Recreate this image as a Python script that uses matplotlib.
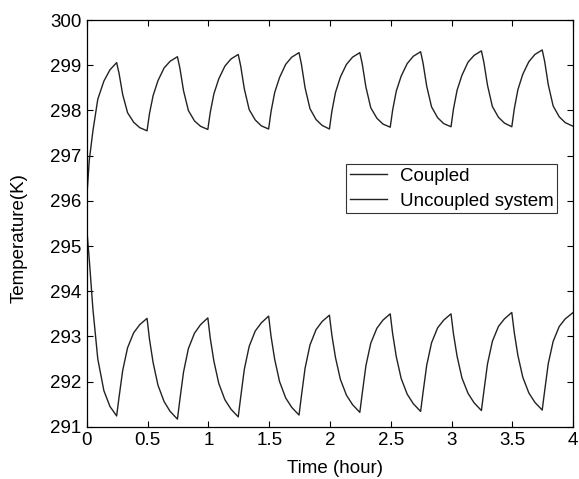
import matplotlib
matplotlib.use("Agg")
import matplotlib.pyplot as plt

plt.rcParams['font.family'] = ['Liberation Sans', 'DejaVu Sans']

# time (hour), one row per quarter-hour segment
time = [
    0.000, 0.020, 0.050, 0.090, 0.140, 0.190,
    0.245, 0.265, 0.295, 0.335, 0.385, 0.435,
    0.495, 0.515, 0.545, 0.585, 0.635, 0.685,
    0.745, 0.765, 0.795, 0.835, 0.885, 0.935,
    0.995, 1.015, 1.045, 1.085, 1.135, 1.185,
    1.245, 1.265, 1.295, 1.335, 1.385, 1.435,
    1.495, 1.515, 1.545, 1.585, 1.635, 1.685,
    1.745, 1.765, 1.795, 1.835, 1.885, 1.935,
    1.995, 2.015, 2.045, 2.085, 2.135, 2.185,
    2.245, 2.265, 2.295, 2.335, 2.385, 2.435,
    2.495, 2.515, 2.545, 2.585, 2.635, 2.685,
    2.745, 2.765, 2.795, 2.835, 2.885, 2.935,
    2.995, 3.015, 3.045, 3.085, 3.135, 3.185,
    3.245, 3.265, 3.295, 3.335, 3.385, 3.435,
    3.495, 3.515, 3.545, 3.585, 3.635, 3.685,
    3.745, 3.765, 3.795, 3.835, 3.885, 3.935,
    4.000,
]

coupled = [
    296.10, 296.90, 297.55, 298.25, 298.65, 298.90,
    299.06, 298.82, 298.35, 297.95, 297.74, 297.62,
    297.55, 297.93, 298.33, 298.66, 298.94, 299.09,
    299.19, 298.94, 298.44, 298.00, 297.77, 297.65,
    297.58, 297.96, 298.37, 298.70, 298.98, 299.14,
    299.24, 298.99, 298.48, 298.02, 297.79, 297.66,
    297.59, 297.98, 298.40, 298.73, 299.02, 299.18,
    299.28, 299.02, 298.50, 298.04, 297.80, 297.67,
    297.59, 297.98, 298.40, 298.74, 299.02, 299.18,
    299.28, 299.03, 298.52, 298.06, 297.83, 297.70,
    297.63, 298.01, 298.43, 298.76, 299.04, 299.20,
    299.30, 299.05, 298.54, 298.08, 297.84, 297.71,
    297.64, 298.03, 298.45, 298.78, 299.07, 299.22,
    299.32, 299.07, 298.56, 298.09, 297.85, 297.72,
    297.64, 298.03, 298.46, 298.80, 299.08, 299.24,
    299.34, 299.09, 298.57, 298.10, 297.86, 297.73,
    297.65,
]

uncoupled = [
    295.35, 294.70, 293.60, 292.50, 291.80, 291.45,
    291.24, 291.66, 292.25, 292.75, 293.08, 293.26,
    293.40, 292.94, 292.42, 291.92, 291.56, 291.34,
    291.17, 291.60, 292.21, 292.73, 293.07, 293.26,
    293.41, 292.96, 292.45, 291.96, 291.60, 291.39,
    291.22, 291.65, 292.27, 292.78, 293.12, 293.30,
    293.45, 293.00, 292.49, 292.00, 291.64, 291.43,
    291.26, 291.69, 292.30, 292.81, 293.15, 293.33,
    293.47, 293.03, 292.53, 292.05, 291.70, 291.49,
    291.32, 291.74, 292.35, 292.85, 293.18, 293.36,
    293.50, 293.06, 292.55, 292.07, 291.72, 291.51,
    291.34, 291.76, 292.36, 292.86, 293.19, 293.36,
    293.50, 293.06, 292.56, 292.08, 291.74, 291.53,
    291.36, 291.78, 292.39, 292.89, 293.22, 293.39,
    293.53, 293.09, 292.58, 292.10, 291.75, 291.54,
    291.37, 291.79, 292.40, 292.89, 293.22, 293.39,
    293.53,
]

xticks = [0, 0.5, 1, 1.5, 2, 2.5, 3, 3.5, 4]
xticklabels = ['0', '0.5', '1', '1.5', '2', '2.5', '3', '3.5', '4']
yticks = [291, 292, 293, 294, 295, 296, 297, 298, 299, 300]

fig = plt.figure(figsize=(5.79, 4.79), dpi=100)
ax = fig.add_axes([0.150, 0.109, 0.840, 0.849])

ax.plot(time, coupled, color='#222222', lw=1.0, label='Coupled')
ax.plot(time, uncoupled, color='#222222', lw=1.0, label='Uncoupled system')

ax.set_xlim(0, 4)
ax.set_ylim(291, 300)
ax.set_xticks(xticks)
ax.set_xticklabels(xticklabels)
ax.set_yticks(yticks)
ax.tick_params(direction='in', top=True, right=True, labelsize=13.5,
               length=4, width=0.8)
ax.tick_params(axis='x', pad=4)
ax.tick_params(axis='y', pad=4)
for s in ax.spines.values():
    s.set_linewidth(0.9)

ax.set_xlabel('Time (hour)', fontsize=13.5)
ax.set_ylabel('Temperature(K)', fontsize=13.5)
ax.xaxis.set_label_coords(0.51, -0.081)
ax.yaxis.set_label_coords(-0.122, 0.464)

leg = ax.legend(loc='upper left', bbox_to_anchor=(0.533, 0.646),
                fontsize=13.5, frameon=True, fancybox=False, edgecolor='black',
                handlelength=2.0, borderpad=0.2, labelspacing=0.4,
                handletextpad=0.65, borderaxespad=0)
leg.get_frame().set_linewidth(0.8)

fig.savefig('out.png', dpi=100)
